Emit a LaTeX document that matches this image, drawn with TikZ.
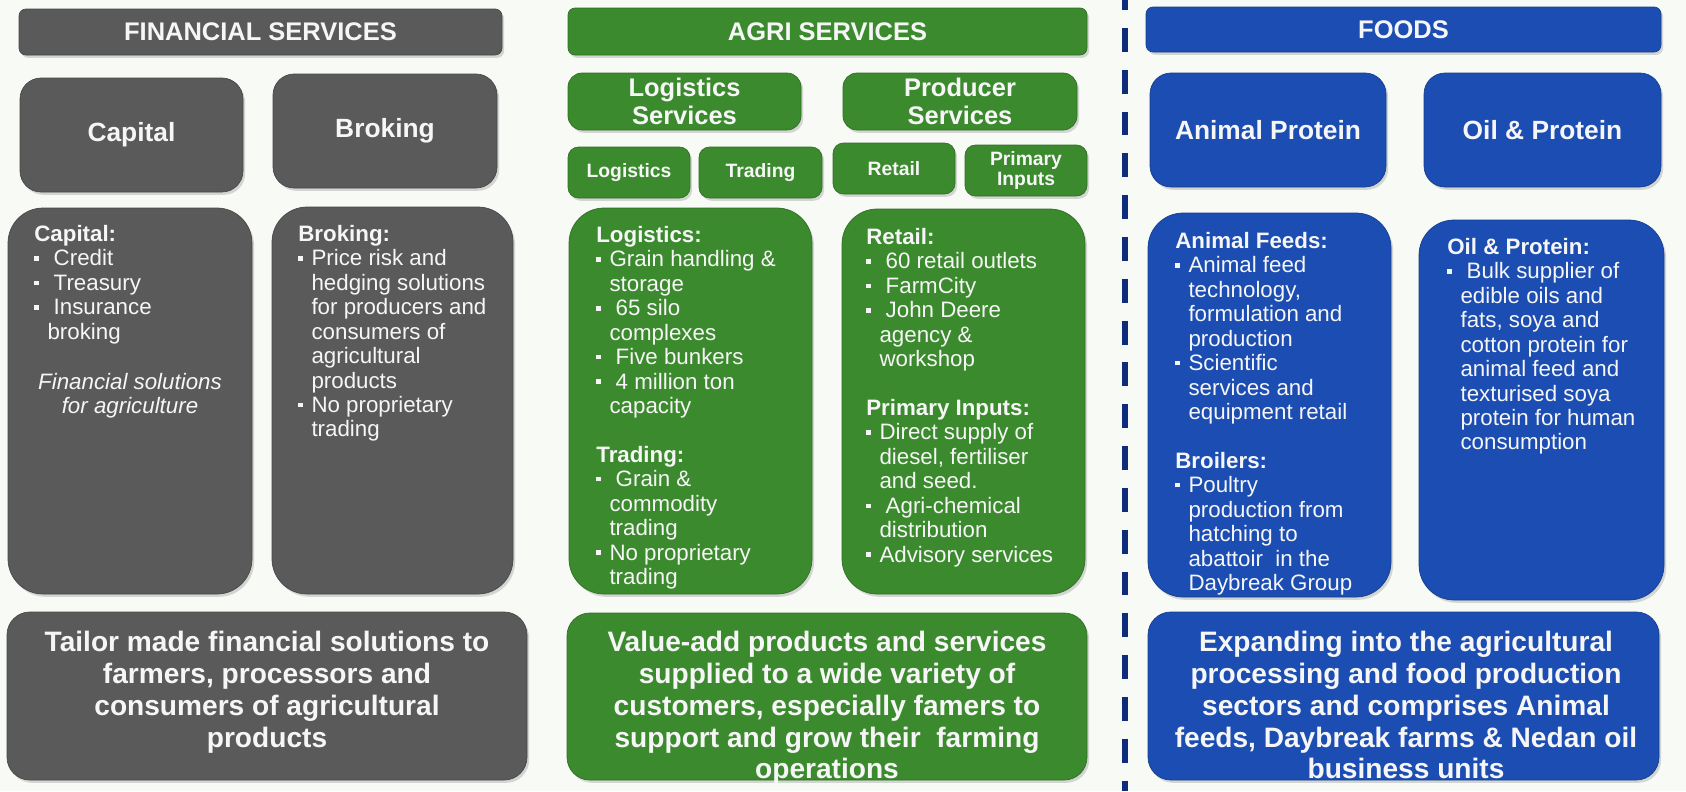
\documentclass[tikz,border=0pt]{standalone}
\usepackage{fontspec}
\setmainfont{Liberation Sans}
\usetikzlibrary{shadows}

\definecolor{fingray}{RGB}{90,90,90}
\definecolor{agrigreen}{RGB}{60,138,46}
\definecolor{foodblue}{RGB}{27,77,178}
\definecolor{sepnavy}{RGB}{14,44,122}
\definecolor{boxtext}{RGB}{246,246,246}
\definecolor{pagebg}{RGB}{248,250,246}

\newcommand{\bul}{\makebox[7.5pt][l]{\rule[3pt]{2.5pt}{2.5pt}}}
\newcommand{\ind}{\hspace*{7.5pt}}

\tikzset{
  boxshadow/.style={drop shadow={shadow xshift=1.2pt,shadow yshift=-1.6pt,opacity=0.3}},
  graybox/.style={fill=fingray,draw=fingray!80!black,line width=0.4pt,rounded corners=#1,boxshadow},
  greenbox/.style={fill=agrigreen,draw=agrigreen!80!black,line width=0.4pt,rounded corners=#1,boxshadow},
  bluebox/.style={fill=foodblue,draw=foodblue!80!black,line width=0.4pt,rounded corners=#1,boxshadow},
  bartext/.style={text=boxtext,font=\fontsize{14.5}{16}\selectfont\bfseries},
  titletext/.style={text=boxtext,font=\fontsize{15}{17}\selectfont\bfseries,align=center},
  subtext/.style={text=boxtext,font=\fontsize{14.5}{15.5}\selectfont\bfseries,align=center},
  smalltext/.style={text=boxtext,font=\fontsize{11}{11.7}\selectfont\bfseries,align=center},
  bodytext/.style={text=boxtext,font=\fontsize{12.7}{13.9}\selectfont,align=left,anchor=north west,inner sep=0pt},
  notetext/.style={text=boxtext,font=\fontsize{12.7}{13.9}\selectfont\itshape,align=center,anchor=north,inner sep=0pt},
  basetext/.style={text=boxtext,font=\fontsize{16}{18.1}\selectfont\bfseries,align=center,anchor=north,inner sep=0pt}
}

\begin{document}
\begin{tikzpicture}[x=0.02cm,y=-0.02cm]
\useasboundingbox (0,0) rectangle (1686,791);
\fill[pagebg] (0,0) rectangle (1686,791);

% financial services
\draw[graybox=4pt] (19,9) rectangle (502,55) node[pos=.5,bartext] (fin) {FINANCIAL SERVICES}; %FIN
\draw[graybox=12pt] (20,78) rectangle (243,192) node[pos=.5,titletext] (capital) {Capital}; %capital
\draw[graybox=12pt] (273,74) rectangle (497,188) node[pos=.5,titletext] (broking) {Broking}; %broking
\draw[graybox=20pt] (8,208) rectangle (252,594); %capital detail
\draw[graybox=20pt] (272,207) rectangle (513,594); %broking detail
\draw[graybox=13pt] (7,612) rectangle (527,780); %tailor made

\node[bodytext] (capdet) at (34,225) {\textbf{Capital:}\\
  \bul\ Credit\\
  \bul\ Treasury\\
  \bul\ Insurance\\
  \ind broking};
\node[notetext] (capnote) at (130,373) {Financial solutions\\for agriculture};
\node[bodytext] (brokdet) at (298,225) {\textbf{Broking:}\\
  \bul Price risk and\\
  \ind hedging solutions\\
  \ind for producers and\\
  \ind consumers of\\
  \ind agricultural\\
  \ind products\\
  \bul No proprietary\\
  \ind trading};
\node[basetext] (fintxt) at (267,631) {Tailor made financial solutions to\\
  farmers, processors and\\
  consumers of agricultural\\
  products};

% agri services
\draw[greenbox=4pt] (568,8) rectangle (1087,55) node[pos=.5,bartext] (agri) {AGRI SERVICES}; %AGRI
\draw[greenbox=8pt] (568,73) rectangle (801,130) node[pos=.5,subtext] (logsvc) {Logistics\\Services}; %logistics services
\draw[greenbox=8pt] (843,73) rectangle (1077,130) node[pos=.5,subtext] (prodsvc) {Producer\\Services}; %producer services
\draw[greenbox=6pt] (568,147) rectangle (690,198) node[pos=.5,smalltext] (logistics) {Logistics}; %logistics
\draw[greenbox=6pt] (699,147) rectangle (822,198) node[pos=.5,smalltext] (trading) {Trading}; %trading
\draw[greenbox=6pt] (833,143) rectangle (955,194) node[pos=.5,smalltext] (retail) {Retail}; %retail
\draw[greenbox=6pt] (965,145) rectangle (1087,196) node[pos=.5,smalltext] (primary) {Primary\\Inputs}; %primary inputs
\draw[greenbox=20pt] (569,208) rectangle (812,594); %logistics detail
\draw[greenbox=20pt] (842,209) rectangle (1085,594); %retail detail
\draw[greenbox=13pt] (567,613) rectangle (1087,780); %value-add

\node[bodytext] (logdet) at (596,226) {\textbf{Logistics:}\\
  \bul Grain handling \&\\
  \ind storage\\
  \bul\ 65 silo\\
  \ind complexes\\
  \bul\ Five bunkers\\
  \bul\ 4 million ton\\
  \ind capacity\\
  \mbox{}\\
  \textbf{Trading:}\\
  \bul\ Grain \&\\
  \ind commodity\\
  \ind trading\\
  \bul No proprietary\\
  \ind trading};
\node[bodytext] (retdet) at (866,228) {\textbf{Retail:}\\
  \bul\ 60 retail outlets\\
  \bul\ FarmCity\\
  \bul\ John Deere\\
  \ind agency \&\\
  \ind workshop\\
  \mbox{}\\
  \textbf{Primary Inputs:}\\
  \bul Direct supply of\\
  \ind diesel, fertiliser\\
  \ind and seed.\\
  \bul\ Agri-chemical\\
  \ind distribution\\
  \bul Advisory services};
\node[basetext] (agritxt) at (827,631) {Value-add products and services\\
  supplied to a wide variety of\\
  customers, especially famers to\\
  support and grow their\ \ farming\\
  operations};

% separator
\coordinate (septop) at (1125,0);
\coordinate (sepbot) at (1125,791);
\draw[sepnavy,line width=3.6pt,dash pattern=on 13.6pt off 10.2pt,dash phase=7.9pt] (septop) -- (sepbot);

% foods
\draw[bluebox=4pt] (1146,7) rectangle (1661,52) node[pos=.5,bartext] (foods) {FOODS}; %FOODS
\draw[bluebox=12pt] (1150,73) rectangle (1386,187) node[pos=.5,titletext] (animal) {Animal Protein}; %animal protein
\draw[bluebox=12pt] (1424,73) rectangle (1661,187) node[pos=.5,titletext] (oil) {Oil \& Protein}; %oil and protein
\draw[bluebox=20pt] (1148,213) rectangle (1391,597); %animal detail
\draw[bluebox=20pt] (1419,220) rectangle (1664,600); %oil detail
\draw[bluebox=13pt] (1148,612) rectangle (1659,780); %expanding

\node[bodytext] (animdet) at (1175,232) {\textbf{Animal Feeds:}\\
  \bul Animal feed\\
  \ind technology,\\
  \ind formulation and\\
  \ind production\\
  \bul Scientific\\
  \ind services and\\
  \ind equipment retail\\
  \mbox{}\\
  \textbf{Broilers:}\\
  \bul Poultry\\
  \ind production from\\
  \ind hatching to\\
  \ind abattoir\ \ in the\\
  \ind Daybreak Group};
\node[bodytext] (oildet) at (1447,238) {\textbf{Oil \& Protein:}\\
  \bul\ Bulk supplier of\\
  \ind edible oils and\\
  \ind fats, soya and\\
  \ind cotton protein for\\
  \ind animal feed and\\
  \ind texturised soya\\
  \ind protein for human\\
  \ind consumption};
\node[basetext] (foodtxt) at (1406,631) {Expanding into the agricultural\\
  processing and food production\\
  sectors and comprises Animal\\
  feeds, Daybreak farms \& Nedan oil\\
  business units};
\end{tikzpicture}
\end{document}
